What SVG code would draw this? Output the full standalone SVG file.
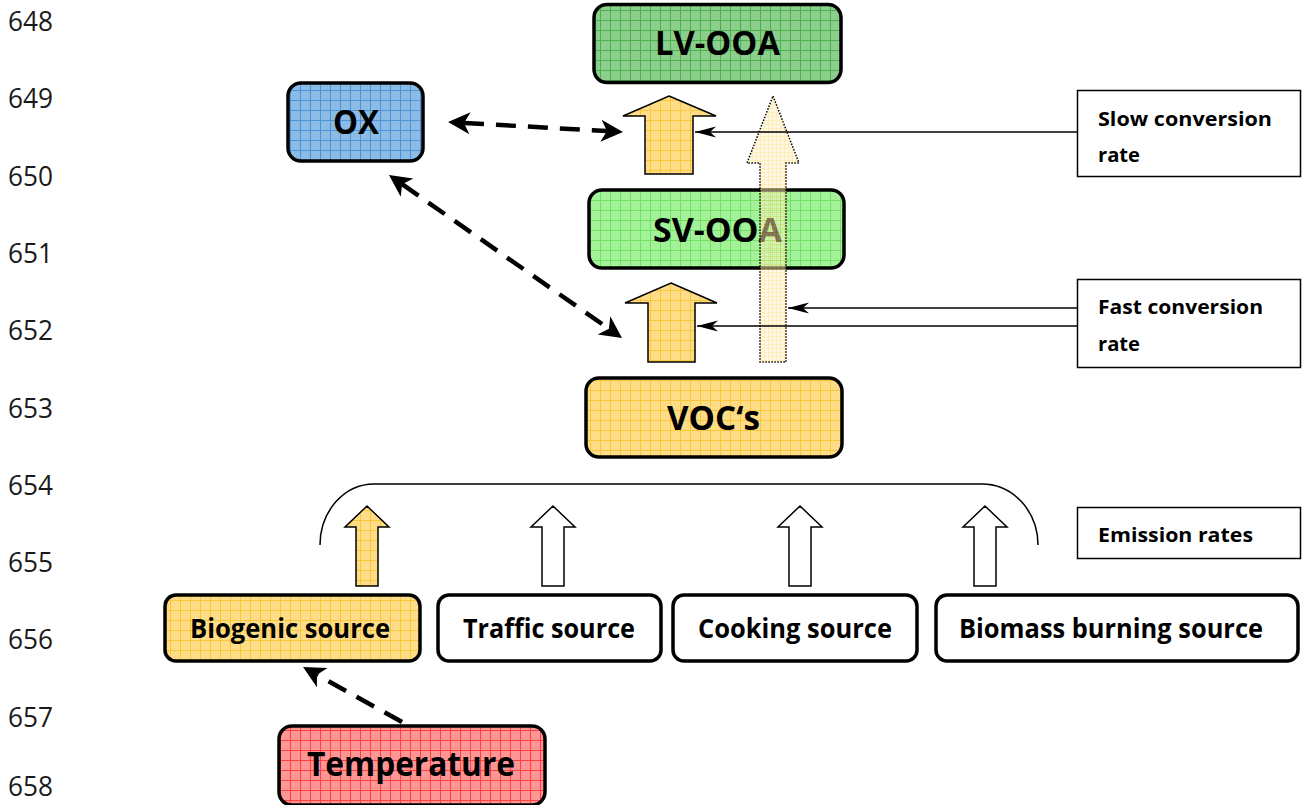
<svg xmlns="http://www.w3.org/2000/svg" width="1306" height="805" viewBox="0 0 1306 805">
  <style>
    .num { font-family: "Open Sans", Lato, sans-serif; font-size: 28px; fill: #1a1a1a; }
    .big { font-family: "Open Sans", Lato, sans-serif; font-weight: bold; font-size: 34px; fill: #000; }
    .src { font-family: "Open Sans", Lato, sans-serif; font-weight: bold; font-size: 26px; fill: #000; }
    .lbl { font-family: "Open Sans", Lato, sans-serif; font-weight: bold; font-size: 19px; fill: #000; }
    .box { stroke: #000; stroke-width: 3.5; }
    .note { fill: #fff; stroke: #000; stroke-width: 1.5; }
    .block { stroke: #000; stroke-width: 1.5; stroke-linejoin: miter; }
    .dash { fill: none; stroke: #000; stroke-width: 4.5; stroke-dasharray: 20 12; }
    .thin { fill: none; stroke: #000; stroke-width: 1.5; }
  </style>
  <defs>
    <pattern id="gLV" width="10" height="10" patternUnits="userSpaceOnUse">
      <rect width="10" height="10" fill="#8ccf8c"/>
      <path d="M0,0.5H10M0.5,0V10" stroke="#4cb04c" stroke-width="1"/>
    </pattern>
    <pattern id="gOX" width="10" height="10" patternUnits="userSpaceOnUse">
      <rect width="10" height="10" fill="#8cbbe6"/>
      <path d="M0,0.5H10M0.5,0V10" stroke="#4c94d8" stroke-width="1"/>
    </pattern>
    <pattern id="gSV" width="10" height="10" patternUnits="userSpaceOnUse">
      <rect width="10" height="10" fill="#a3f29a"/>
      <path d="M0,0.5H10M0.5,0V10" stroke="#72e062" stroke-width="1"/>
    </pattern>
    <pattern id="gYel" width="10" height="10" patternUnits="userSpaceOnUse">
      <rect width="10" height="10" fill="#ffdc88"/>
      <path d="M0,0.5H10M0.5,0V10" stroke="#f9c73a" stroke-width="1"/>
    </pattern>
    <pattern id="gRed" width="10" height="10" patternUnits="userSpaceOnUse">
      <rect width="10" height="10" fill="#ff9696"/>
      <path d="M0,0.5H10M0.5,0V10" stroke="#ff4040" stroke-width="1"/>
    </pattern>
    <pattern id="gPale" width="4" height="4" patternUnits="userSpaceOnUse">
      <rect width="4" height="4" fill="#fff3cf"/>
      <path d="M0,0.5H4M0.5,0V4" stroke="#ffd970" stroke-width="1"/>
    </pattern>
    <marker id="stealth" markerUnits="userSpaceOnUse" viewBox="-10 -15 30 30" markerWidth="30" markerHeight="30" refX="0" refY="0" orient="auto-start-reverse">
      <path d="M16,0 L-6,-11 L0,0 L-6,11 Z" fill="#000"/>
    </marker>
    <marker id="barb" markerUnits="userSpaceOnUse" viewBox="-24 -8 28 16" markerWidth="28" markerHeight="16" refX="0" refY="0" orient="auto">
      <path d="M0,0 L-21,-5.5 L-15,0 L-21,5.5 Z" fill="#000"/>
    </marker>
  </defs>

  <rect width="1306" height="805" fill="#fff"/>

  <!-- line numbers -->
  <g id="line-numbers">
    <text class="num" x="8" y="31" textLength="45" lengthAdjust="spacingAndGlyphs">648</text>
    <text class="num" x="8" y="108" textLength="45" lengthAdjust="spacingAndGlyphs">649</text>
    <text class="num" x="8" y="186" textLength="45" lengthAdjust="spacingAndGlyphs">650</text>
    <text class="num" x="8" y="263" textLength="45" lengthAdjust="spacingAndGlyphs">651</text>
    <text class="num" x="8" y="340" textLength="45" lengthAdjust="spacingAndGlyphs">652</text>
    <text class="num" x="8" y="418" textLength="45" lengthAdjust="spacingAndGlyphs">653</text>
    <text class="num" x="8" y="495" textLength="45" lengthAdjust="spacingAndGlyphs">654</text>
    <text class="num" x="8" y="572" textLength="45" lengthAdjust="spacingAndGlyphs">655</text>
    <text class="num" x="8" y="649" textLength="45" lengthAdjust="spacingAndGlyphs">656</text>
    <text class="num" x="8" y="727" textLength="45" lengthAdjust="spacingAndGlyphs">657</text>
    <text class="num" x="8" y="796" textLength="45" lengthAdjust="spacingAndGlyphs">658</text>
  </g>

  <!-- main nodes -->
  <g id="lv-ooa">
    <rect class="box" x="594" y="4.5" width="247" height="78" rx="13" fill="url(#gLV)"/>
    <text class="big" x="655" y="55" textLength="125" lengthAdjust="spacingAndGlyphs">LV-OOA</text>
  </g>
  <g id="ox">
    <rect class="box" x="288" y="83" width="135" height="78" rx="13" fill="url(#gOX)"/>
    <text class="big" x="333" y="134" textLength="46" lengthAdjust="spacingAndGlyphs">OX</text>
  </g>
  <g id="sv-ooa">
    <rect class="box" x="589" y="190" width="255" height="78" rx="13" fill="url(#gSV)"/>
    <text class="big" x="653" y="242" textLength="129" lengthAdjust="spacingAndGlyphs">SV-OOA</text>
  </g>
  <g id="vocs">
    <rect class="box" x="586" y="378" width="256" height="79" rx="13" fill="url(#gYel)"/>
    <text class="big" x="667" y="430" textLength="93" lengthAdjust="spacingAndGlyphs">VOC‘s</text>
  </g>

  <!-- emission sources -->
  <g id="biogenic-source">
    <rect class="box" x="165" y="595" width="255" height="66" rx="11" fill="url(#gYel)"/>
    <text class="src" x="190" y="638" textLength="200" lengthAdjust="spacingAndGlyphs">Biogenic source</text>
  </g>
  <g id="traffic-source">
    <rect class="box" x="438" y="595" width="223" height="66" rx="11" fill="#fff"/>
    <text class="src" x="463" y="638" textLength="172" lengthAdjust="spacingAndGlyphs">Traffic source</text>
  </g>
  <g id="cooking-source">
    <rect class="box" x="673" y="595" width="244" height="66" rx="11" fill="#fff"/>
    <text class="src" x="698" y="638" textLength="194" lengthAdjust="spacingAndGlyphs">Cooking source</text>
  </g>
  <g id="biomass-burning-source">
    <rect class="box" x="936" y="595" width="362" height="66" rx="11" fill="#fff"/>
    <text class="src" x="959" y="638" textLength="304" lengthAdjust="spacingAndGlyphs">Biomass burning source</text>
  </g>
  <g id="temperature">
    <rect class="box" x="279" y="726" width="266" height="79" rx="13" fill="url(#gRed)"/>
    <text class="big" x="307" y="776" textLength="208" lengthAdjust="spacingAndGlyphs">Temperature</text>
  </g>

  <!-- rate notes -->
  <g id="slow-conversion-rate">
    <rect class="note" x="1077.5" y="90.5" width="223" height="86"/>
    <text class="lbl" x="1098" y="126" textLength="174" lengthAdjust="spacingAndGlyphs">Slow conversion</text>
    <text class="lbl" x="1098" y="162" textLength="42" lengthAdjust="spacingAndGlyphs">rate</text>
  </g>
  <g id="fast-conversion-rate">
    <rect class="note" x="1077.5" y="279.5" width="223" height="88"/>
    <text class="lbl" x="1098" y="314" textLength="165" lengthAdjust="spacingAndGlyphs">Fast conversion</text>
    <text class="lbl" x="1098" y="351" textLength="42" lengthAdjust="spacingAndGlyphs">rate</text>
  </g>
  <g id="emission-rates">
    <rect class="note" x="1077.5" y="507.5" width="223" height="51"/>
    <text class="lbl" x="1098" y="542" textLength="155" lengthAdjust="spacingAndGlyphs">Emission rates</text>
  </g>

  <!-- connectors -->
  <g id="connectors">
    <!-- conversion block arrows -->
    <polygon class="block" fill="url(#gYel)" points="669,96 716,116 693,116 693,174 645,174 645,116 623,116"/>
    <polygon class="block" fill="url(#gYel)" points="671,283 717,303 695,303 695,362 648,362 648,303 625,303"/>
    <!-- direct path VOC to LV-OOA -->
    <polygon fill="url(#gPale)" fill-opacity="0.5" stroke="#000" stroke-width="1.5" stroke-dasharray="1.5 1.5" points="773,96 799,163 786,163 786,362 760,362 760,163 747,163"/>

    <!-- emission block arrows -->
    <polygon class="block" fill="url(#gYel)" points="367,506 389,527 378,527 378,586 356,586 356,527 345,527"/>
    <polygon class="block" fill="#fff" points="553,506 575,527 564,527 564,586 542,586 542,527 531,527"/>
    <polygon class="block" fill="#fff" points="800,506 822,527 811,527 811,586 789,586 789,527 778,527"/>
    <polygon class="block" fill="#fff" points="985,506 1007,527 996,527 996,586 974,586 974,527 963,527"/>

    <!-- emission bracket -->
    <path class="thin" d="M320,545 A54,61 0 0 1 374,484 L982,484 A56,61 0 0 1 1038,545"/>

    <!-- rate lines -->
    <line class="thin" x1="1077" y1="132" x2="695" y2="132" marker-end="url(#barb)"/>
    <line class="thin" x1="1077" y1="308" x2="788" y2="308" marker-end="url(#barb)"/>
    <line class="thin" x1="1077" y1="326" x2="697" y2="326" marker-end="url(#barb)"/>

    <!-- oxidant influence -->
    <line class="dash" x1="464" y1="122.9" x2="607" y2="131.1" marker-start="url(#stealth)" marker-end="url(#stealth)"/>
    <line class="dash" x1="402.1" y1="184.2" x2="608.9" y2="328.8" marker-start="url(#stealth)" marker-end="url(#stealth)"/>
    <!-- temperature influence -->
    <line class="dash" x1="402" y1="722" x2="317" y2="674.8" marker-end="url(#stealth)"/>
  </g>
</svg>
